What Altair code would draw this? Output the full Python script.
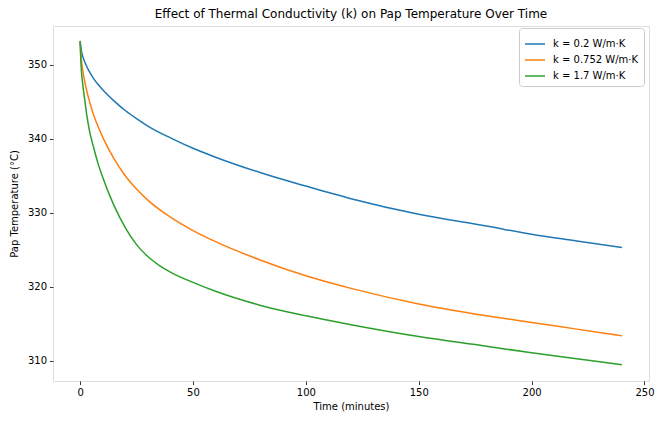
import altair as alt
import pandas as pd

t_blue = [0, 0.5, 1, 2, 3, 4, 6, 8, 10, 15, 20, 25, 30, 40, 50, 60, 80, 100, 120, 150, 180, 200, 220, 240]
v_blue = [353.2, 352.0, 351.3, 350.4, 349.7, 349.1, 348.1, 347.3, 346.6, 345.1, 343.8, 342.7, 341.7,
          340.1, 338.7, 337.5, 335.4, 333.6, 331.9, 329.8, 328.2, 327.1, 326.2, 325.3]

t_orange = [0, 0.5, 1, 2, 3, 4, 6, 8, 10, 15, 20, 25, 30, 40, 50, 60, 80, 100, 120, 150, 180, 200, 220, 240]
v_orange = [353.1, 350.8, 349.6, 347.8, 346.4, 345.2, 343.2, 341.6, 340.2, 337.3, 335.0, 333.2, 331.7,
            329.4, 327.6, 326.1, 323.6, 321.5, 319.8, 317.7, 316.1, 315.2, 314.3, 313.4]

t_green = [0, 0.5, 1, 2, 3, 4, 6, 8, 10, 15, 20, 25, 30, 35, 40, 50, 60, 80, 100, 120, 150, 180, 200, 220, 240]
v_green = [353.1, 349.5, 347.8, 345.4, 343.1, 341.3, 338.8, 336.6, 334.8, 331.0, 328.0, 325.7, 324.1,
           322.9, 322.0, 320.6, 319.4, 317.5, 316.1, 314.9, 313.3, 312.0, 311.1, 310.3, 309.5]

labels = ["k = 0.2 W/m·K", "k = 0.752 W/m·K", "k = 1.7 W/m·K"]
colors = ["#1f77b4", "#ff7f0e", "#2ca02c"]

rows = []
for lab, ts, vs in zip(labels, [t_blue, t_orange, t_green], [v_blue, v_orange, v_green]):
    for i, (t, v) in enumerate(zip(ts, vs)):
        rows.append({"time": t, "temp": v, "series": lab, "order": i})
df = pd.DataFrame(rows)

font = "DejaVu Sans"

chart = alt.Chart(df).mark_line(strokeWidth=1.5, interpolate="monotone").encode(
    x=alt.X("time:Q", title="Time (minutes)",
            scale=alt.Scale(domain=[-12, 252], nice=False, zero=False),
            axis=alt.Axis(values=[0, 50, 100, 150, 200, 250], format="d", grid=False,
                          domain=False, tickColor="black", tickSize=3.5, tickWidth=0.8,
                          labelFont=font, labelFontSize=10, labelColor="black", labelPadding=3,
                          titleFont=font, titleFontSize=10, titleFontWeight="normal",
                          titleColor="black", titlePadding=4)),
    y=alt.Y("temp:Q", title="Pap Temperature (°C)",
            scale=alt.Scale(domain=[307.3, 355.2], nice=False, zero=False),
            axis=alt.Axis(values=[310, 320, 330, 340, 350], format="d", grid=False,
                          domain=False, tickColor="black", tickSize=3.5, tickWidth=0.8,
                          labelFont=font, labelFontSize=10, labelColor="black", labelPadding=3,
                          titleFont=font, titleFontSize=10, titleFontWeight="normal",
                          titleColor="black", titlePadding=8)),
    color=alt.Color("series:N", sort=labels,
                    scale=alt.Scale(domain=labels, range=colors),
                    legend=alt.Legend(title=None, orient="none", legendX=466, legendY=2,
                                      symbolType="stroke", symbolSize=400, symbolStrokeWidth=1.5,
                                      labelFont=font, labelFontSize=10, labelColor="black",
                                      fillColor="white", strokeColor="#cccccc", cornerRadius=3,
                                      padding=5, rowPadding=-3, labelOffset=7)),
    order="order:Q",
).properties(
    width=596, height=355,
    title=alt.Title("Effect of Thermal Conductivity (k) on Pap Temperature Over Time",
                    font=font, fontSize=12, fontWeight="normal", color="black", offset=5),
    padding={"left": 45, "top": 18, "right": 6, "bottom": 34},
    autosize="none",
).configure_view(stroke="black", strokeWidth=0.8).configure(background="white")

chart.save("out.html", embed_options={"renderer": "svg", "actions": False})
